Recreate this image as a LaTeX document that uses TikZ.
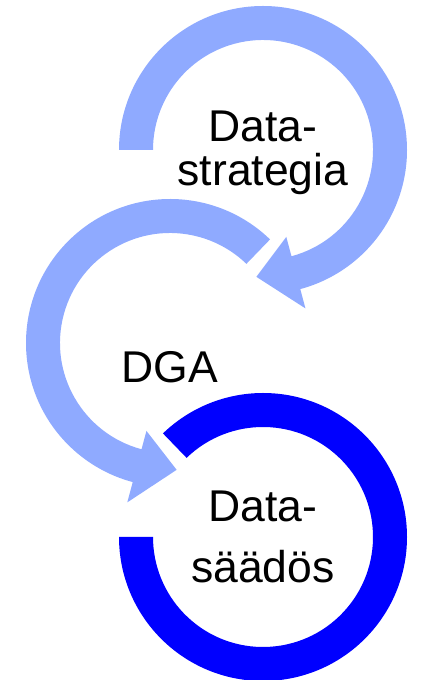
\documentclass[tikz,border=0pt]{standalone}
\usepackage{fontspec}
\setmainfont{Liberation Sans}

\definecolor{paleblue}{RGB}{143,170,255}
\definecolor{deepblue}{RGB}{0,0,255}

\begin{document}
\begin{tikzpicture}[x=1pt,y=1pt]

\def\outr{144}
\def\innr{110}
\def\midr{127}

\tikzstyle{cyclearrow}=[fill=paleblue]
\tikzstyle{cyclering}=[fill=deepblue]
\tikzstyle{caption}=[inner sep=0pt,align=center,anchor=north,font=\fontsize{44.5}{44}\selectfont]

\useasboundingbox (0,0) rectangle (421,680);

%strategy loop
\fill[cyclearrow,shift={(263,530)}] (180:\outr) arc[start angle=180,end angle=-75,radius=\outr]
  -- (-75:164) -- (-93:\midr) -- (-75:90) -- (-75:\innr)
  arc[start angle=-75,end angle=180,radius=\innr] -- cycle;
\node[caption] (strategy) at (263,569) {Data-\\strategia};

%governance loop
\fill[cyclearrow,shift={(170,337)}] (46:\outr) arc[start angle=46,end angle=255,radius=\outr]
  -- (255:165) -- (273:\midr) -- (255:91) -- (255:\innr)
  arc[start angle=255,end angle=46,radius=\innr] -- cycle;
\node[caption] (dga) at (170,329) {DGA};

%act ring
\fill[cyclering,shift={(263,143)}] (180:\outr) arc[start angle=180,end angle=494,radius=\outr]
  -- (494:\innr) arc[start angle=494,end angle=180,radius=\innr] -- cycle;
\node[caption] (act) at (263,189) {Data-\\[17pt]säädös};

\end{tikzpicture}
\end{document}
